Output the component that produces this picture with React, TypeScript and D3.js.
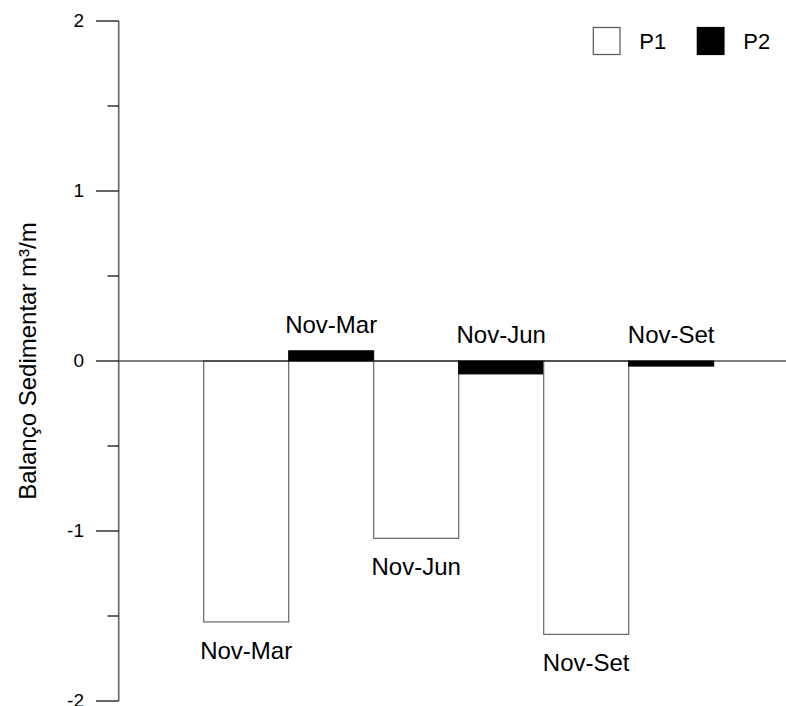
import React, { useEffect, useRef } from "react";
import * as d3 from "d3";

// Sediment balance per period, two profiles
const periods = ["Nov-Mar", "Nov-Jun", "Nov-Set"];
const p1Values = [-1.535, -1.043, -1.608];
const p2Values = [0.06, -0.076, -0.03];
const majorTicks = [2, 1, 0, -1, -2];
const minorTicks = [1.5, 0.5, -0.5, -1.5];
const seriesNames = ["P1", "P2"];

const W = 786;
const H = 706;
const FONT = "'Liberation Sans', Arial, Helvetica, sans-serif";

export default function App() {
  const ref = useRef<SVGSVGElement | null>(null);

  useEffect(() => {
    const svg = d3.select(ref.current);
    svg.selectAll("*").remove();

    const axisX = 118.7;
    const y = d3.scaleLinear().domain([-2, 2]).range([701, 21]);
    // group centres at 1, 2, 3; each bar spans half a unit
    const x = d3.scaleLinear().domain([0, 4]).range([axisX, axisX + 680]);
    const half = x(0.5) - x(0);

    const g = svg.append("g");

    // bars
    periods.forEach((p, i) => {
      const c = x(i + 1);
      const v1 = p1Values[i];
      const v2 = p2Values[i];
      g.append("rect")
        .attr("x", c - half)
        .attr("y", Math.min(y(v1), y(0)))
        .attr("width", half)
        .attr("height", Math.abs(y(v1) - y(0)))
        .attr("fill", "#fff")
        .attr("stroke", "#666")
        .attr("stroke-width", 1.2);
      g.append("rect")
        .attr("x", c)
        .attr("y", Math.min(y(v2), y(0)))
        .attr("width", half)
        .attr("height", Math.abs(y(v2) - y(0)))
        .attr("fill", "#000")
        .attr("stroke", "#000")
        .attr("stroke-width", 1);

      // labels: P1 below its bar, P2 above the zero line / bar
      g.append("text")
        .attr("x", c - half / 2)
        .attr("y", y(v1) + 37)
        .attr("text-anchor", "middle")
        .attr("font-family", FONT)
        .attr("font-size", 24)
        .attr("fill", "#000")
        .text(p);
      g.append("text")
        .attr("x", c + half / 2)
        .attr("y", Math.min(y(v2), y(0)) - 18)
        .attr("text-anchor", "middle")
        .attr("font-family", FONT)
        .attr("font-size", 24)
        .attr("fill", "#000")
        .text(p);
    });

    // zero line
    g.append("line")
      .attr("x1", axisX)
      .attr("x2", W)
      .attr("y1", y(0))
      .attr("y2", y(0))
      .attr("stroke", "#000")
      .attr("stroke-width", 1.2);

    // y axis
    g.append("line")
      .attr("x1", axisX)
      .attr("x2", axisX)
      .attr("y1", y(2))
      .attr("y2", y(-2))
      .attr("stroke", "#666")
      .attr("stroke-width", 1.6);

    majorTicks.forEach((t) => {
      g.append("line")
        .attr("x1", 96)
        .attr("x2", axisX)
        .attr("y1", y(t))
        .attr("y2", y(t))
        .attr("stroke", "#000")
        .attr("stroke-width", 1.2);
      g.append("text")
        .attr("x", 84)
        .attr("y", y(t))
        .attr("dy", "0.33em")
        .attr("text-anchor", "end")
        .attr("font-family", FONT)
        .attr("font-size", 19)
        .attr("fill", "#000")
        .text(String(t));
    });
    minorTicks.forEach((t) => {
      g.append("line")
        .attr("x1", 107.5)
        .attr("x2", axisX)
        .attr("y1", y(t))
        .attr("y2", y(t))
        .attr("stroke", "#000")
        .attr("stroke-width", 1.2);
    });

    // y axis title
    g.append("text")
      .attr("transform", `translate(36, ${y(0)}) rotate(-90)`)
      .attr("text-anchor", "middle")
      .attr("font-family", FONT)
      .attr("font-size", 24)
      .attr("fill", "#000")
      .text("Balanço Sedimentar m³/m");

    // legend
    const legendX = [593.3, 697.3];
    seriesNames.forEach((name, i) => {
      g.append("rect")
        .attr("x", legendX[i])
        .attr("y", 27.5)
        .attr("width", 26.7)
        .attr("height", 27)
        .attr("fill", i === 0 ? "#fff" : "#000")
        .attr("stroke", i === 0 ? "#555" : "#000")
        .attr("stroke-width", 1.2);
      g.append("text")
        .attr("x", legendX[i] + 46)
        .attr("y", 48.5)
        .attr("font-family", FONT)
        .attr("font-size", 22)
        .attr("fill", "#000")
        .text(name);
    });
  }, []);

  return (
    <svg
      ref={ref}
      width={W}
      height={H}
      style={{ position: "absolute", left: 0, top: 0, background: "#fff" }}
    />
  );
}
